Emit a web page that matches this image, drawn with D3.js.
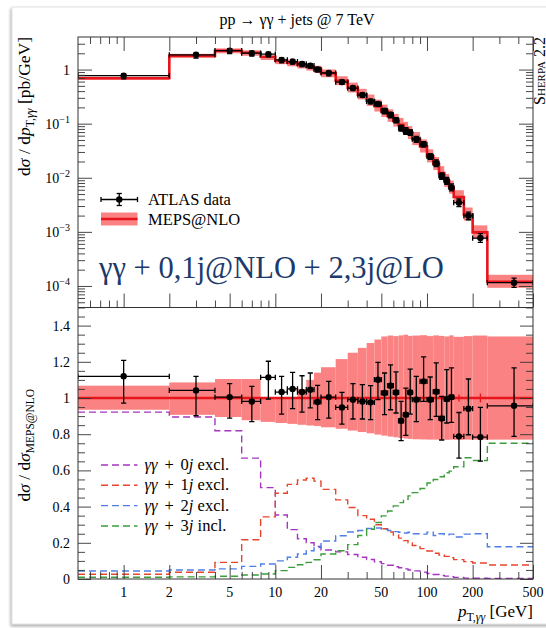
<!DOCTYPE html>
<html>
<head>
<meta charset="utf-8">
<script src="https://cdn.jsdelivr.net/npm/d3@7"></script>
<style>
body { margin: 0; background: #fff; }
svg { display: block; }
</style>
</head>
<body>
<svg id="chart" width="546" height="628"></svg>
<script>

// pT bins (GeV)
const binEdges = [0,2,4,6,8,10,12,14,16,18,20,25,30,35,40,45,50,55,60,65,70,75,80,90,100,110,120,130,140,150,175,200,250,500];
const binCentres = [1,3,5,7,9,11,13,15,17,19,22.5,27.5,32.5,37.5,42.5,47.5,52.5,57.5,62.5,67.5,72.5,77.5,85,95,105,115,125,135,145,162.5,187.5,225,375];

// MEPS@NLO prediction, dsigma/dpT [pb/GeV]
const mepsXsec = [0.69,1.80,2.23,2.05,1.73,1.46,1.34,1.23,1.13,1.03,0.86,0.62,0.46,0.345,0.265,0.21,0.168,0.137,0.113,0.095,0.08,0.067,0.052,0.038,0.025,0.018,0.0122,0.0088,0.0066,0.0044,0.0021,0.00098,0.00012];
// scale band relative to central value
const mepsBandHi = [1.068,1.086,1.105,1.105,1.003,1.003,1.003,1.05,1.10,1.14,1.17,1.215,1.25,1.277,1.304,1.323,1.34,1.345,1.342,1.346,1.35,1.343,1.345,1.347,1.342,1.346,1.343,1.34,1.346,1.338,1.342,1.345,1.34];
const mepsBandLo = [0.935,0.907,0.895,0.877,0.868,0.862,0.857,0.852,0.848,0.845,0.838,0.83,0.82,0.812,0.805,0.798,0.792,0.787,0.783,0.779,0.776,0.774,0.772,0.771,0.77,0.77,0.769,0.769,0.77,0.769,0.77,0.77,0.77];
const mepsStatErr = [0.003,0.003,0.003,0.003,0.003,0.003,0.003,0.003,0.003,0.003,0.003,0.003,0.003,0.004,0.004,0.004,0.005,0.005,0.006,0.006,0.007,0.007,0.007,0.008,0.009,0.01,0.011,0.012,0.013,0.02,0.02,0.025,0.02];

// ATLAS data / MEPS@NLO
const dataRatio   = [1.120,1.042,1.005,0.981,1.114,1.033,1.050,1.033,1.046,0.978,1.005,0.948,0.991,0.981,0.976,1.101,1.028,1.068,1.031,0.874,0.908,1.031,0.991,1.092,0.991,1.035,0.887,0.994,1.005,0.788,0.941,0.784,0.957];
const dataRatioHi = [1.208,1.120,1.079,1.064,1.203,1.120,1.142,1.123,1.138,1.070,1.092,1.031,1.079,1.074,1.068,1.197,1.138,1.183,1.144,0.981,1.055,1.160,1.120,1.227,1.116,1.194,1.009,1.157,1.166,0.920,1.105,0.948,1.166];
const dataRatioLo = [0.972,0.902,0.889,0.870,0.994,0.911,0.941,0.922,0.945,0.880,0.889,0.856,0.884,0.884,0.880,0.991,0.908,0.935,0.917,0.765,0.793,0.911,0.870,0.981,0.880,0.898,0.768,0.862,0.865,0.668,0.797,0.651,0.788];

// jet multiplicity fractions
const frac0j = [0.922,0.895,0.819,0.668,0.505,0.354,0.273,0.222,0.2,0.18,0.16,0.15,0.135,0.12,0.108,0.095,0.085,0.076,0.068,0.062,0.056,0.05,0.045,0.038,0.03,0.025,0.02,0.016,0.013,0.009,0.005,0.004,0.003];
const frac1j = [0.026,0.037,0.092,0.217,0.343,0.474,0.523,0.547,0.557,0.541,0.495,0.437,0.395,0.35,0.33,0.3,0.278,0.26,0.243,0.226,0.212,0.2,0.185,0.168,0.155,0.142,0.133,0.125,0.117,0.107,0.096,0.088,0.077];
const frac2j = [0.044,0.05,0.056,0.07,0.083,0.1,0.12,0.138,0.156,0.174,0.21,0.239,0.26,0.268,0.279,0.282,0.274,0.268,0.262,0.258,0.254,0.258,0.25,0.248,0.258,0.24,0.25,0.244,0.248,0.232,0.248,0.25,0.178];
const frac3j = [0.01,0.012,0.015,0.022,0.028,0.046,0.064,0.079,0.092,0.106,0.138,0.156,0.19,0.24,0.275,0.312,0.349,0.376,0.404,0.422,0.44,0.459,0.477,0.5,0.53,0.55,0.565,0.587,0.596,0.62,0.67,0.655,0.75];

const fracNames = ["0", "1", "2", "3"];
const fracSuffix = ["excl.", "excl.", "excl.", "incl."];
const fracColors = ["#a535c0", "#e8452c", "#4f7fe6", "#3a9d3a"];

// ticks
const xMajorTicks = [1,2,5,10,20,50,100,200,500];
const xMinorTicks = [0.6,0.7,0.8,0.9,3,4,6,7,8,9,30,40,60,70,80,90,300,400];
const yTopMajor = [1e-4,1e-3,1e-2,1e-1,1];
const yTopLabels = ["−4","−3","−2","−1",""];
const yRatLabels = [0,0.2,0.4,0.6,0.8,1,1.2,1.4];

const FONT = "'Liberation Serif', 'DejaVu Serif', 'Times New Roman', serif";
const X0 = 78, X1 = 533, TOP0 = 37, MID = 307.5, BOT = 579;
const bandFill = "#fa8282", mcRed = "#e8141b";

const svg = d3.select("#chart").attr("font-family", FONT);
const defs = svg.append("defs");
const shadow = defs.append("filter").attr("id", "shadow")
    .attr("x", "-5%").attr("y", "-5%").attr("width", "110%").attr("height", "110%");
shadow.append("feDropShadow").attr("dx", -1).attr("dy", 2).attr("stdDeviation", 1.6)
    .attr("flood-color", "#777").attr("flood-opacity", 0.6);

// card background like the screenshot
svg.append("rect").attr("x", 12).attr("y", 7).attr("width", 560).attr("height", 617)
    .attr("fill", "#fff").attr("stroke", "#e2e2e2").attr("filter", "url(#shadow)");

const x = d3.scaleLog().domain([0.5, 500]).range([X0, X1]);
const yTop = d3.scaleLog().domain([4e-5, 4]).range([MID, TOP0]);
const yRat = d3.scaleLinear().domain([0, 1.5]).range([BOT, MID]);
const xe = e => x(Math.max(e, 0.5));

const bins = binCentres.map((c, i) => ({
    lo: binEdges[i], hi: binEdges[i + 1], c: c,
    mc: mepsXsec[i], bHi: mepsBandHi[i], bLo: mepsBandLo[i], stat: mepsStatErr[i],
    r: dataRatio[i], rHi: dataRatioHi[i], rLo: dataRatioLo[i],
    fr: [frac0j[i], frac1j[i], frac2j[i], frac3j[i]]
}));

defs.append("clipPath").attr("id", "clipTop").append("rect")
    .attr("x", X0).attr("y", TOP0).attr("width", X1 - X0).attr("height", MID - TOP0);
defs.append("clipPath").attr("id", "clipRat").append("rect")
    .attr("x", X0).attr("y", MID).attr("width", X1 - X0).attr("height", BOT - MID);

function stepPoints(valueFn) {
    const pts = bins.map(b => [b.lo, valueFn(b)]);
    const last = bins[bins.length - 1];
    pts.push([last.hi, valueFn(last)]);
    return pts;
}

function drawData(g, yFn, cap) {
    const pts = g.selectAll("g.pt").data(bins).join("g").attr("class", "pt")
        .attr("stroke", "#000").attr("stroke-width", 1.3);
    pts.append("line")
        .attr("x1", d => xe(d.lo)).attr("x2", d => x(d.hi))
        .attr("y1", d => yFn(d, "r")).attr("y2", d => yFn(d, "r"));
    pts.append("line")
        .attr("x1", d => xe(d.lo)).attr("x2", d => xe(d.lo))
        .attr("y1", d => yFn(d, "r") - cap).attr("y2", d => yFn(d, "r") + cap);
    pts.append("line")
        .attr("x1", d => x(d.hi)).attr("x2", d => x(d.hi))
        .attr("y1", d => yFn(d, "r") - cap).attr("y2", d => yFn(d, "r") + cap);
    pts.append("line")
        .attr("x1", d => x(d.c)).attr("x2", d => x(d.c))
        .attr("y1", d => yFn(d, "rHi")).attr("y2", d => yFn(d, "rLo"));
    ["rHi", "rLo"].forEach(k => {
        pts.append("line")
            .attr("x1", d => x(d.c) - cap).attr("x2", d => x(d.c) + cap)
            .attr("y1", d => yFn(d, k)).attr("y2", d => yFn(d, k));
    });
    pts.append("circle").attr("cx", d => x(d.c)).attr("cy", d => yFn(d, "r"))
        .attr("r", 3.2).attr("fill", "#000").attr("stroke", "none");
}

// ---------- top panel ----------
const gTop = svg.append("g").attr("clip-path", "url(#clipTop)");
gTop.selectAll("rect.band").data(bins).join("rect").attr("class", "band")
    .attr("x", d => xe(d.lo)).attr("width", d => x(d.hi) - xe(d.lo))
    .attr("y", d => yTop(d.mc * d.bHi))
    .attr("height", d => yTop(d.mc * d.bLo) - yTop(d.mc * d.bHi))
    .attr("fill", bandFill);
gTop.append("path")
    .attr("d", d3.line().x(p => xe(p[0])).y(p => yTop(p[1])).curve(d3.curveStepAfter)(stepPoints(b => b.mc)))
    .attr("fill", "none").attr("stroke", mcRed).attr("stroke-width", 2.6);
drawData(gTop.append("g"), (d, k) => yTop(d.mc * d[k]), 2.6);

// ---------- ratio panel ----------
const gRat = svg.append("g").attr("clip-path", "url(#clipRat)");
gRat.selectAll("rect.band").data(bins).join("rect").attr("class", "band")
    .attr("x", d => xe(d.lo)).attr("width", d => x(d.hi) - xe(d.lo))
    .attr("y", d => yRat(d.bHi))
    .attr("height", d => yRat(d.bLo) - yRat(d.bHi))
    .attr("fill", bandFill);
gRat.append("path")
    .attr("d", d3.line().x(p => xe(p[0])).y(p => yRat(p[1])).curve(d3.curveStepAfter)(stepPoints(b => 1)))
    .attr("fill", "none").attr("stroke", mcRed).attr("stroke-width", 2.6);
gRat.selectAll("line.stat").data(bins).join("line").attr("class", "stat")
    .attr("x1", d => x(d.c)).attr("x2", d => x(d.c))
    .attr("y1", d => yRat(1 + d.stat)).attr("y2", d => yRat(1 - d.stat))
    .attr("stroke", mcRed).attr("stroke-width", 1.3);
fracNames.forEach((n, j) => {
    gRat.append("path")
        .attr("d", d3.line().x(p => xe(p[0])).y(p => yRat(p[1])).curve(d3.curveStepAfter)(stepPoints(b => b.fr[j])))
        .attr("fill", "none").attr("stroke", fracColors[j]).attr("stroke-width", 1.4)
        .attr("stroke-dasharray", "7,4");
});
drawData(gRat.append("g"), (d, k) => yRat(d[k]), 2.6);

// ---------- frames and ticks ----------
function tickGroup(axis, vals, size, tx, ty) {
    const g = svg.append("g").attr("transform", `translate(${tx},${ty})`)
        .call(axis.tickValues(vals).tickSize(size).tickSizeOuter(0).tickFormat(""));
    g.select(".domain").remove();
    g.selectAll("line").attr("stroke", "#333").attr("stroke-width", 0.9);
    return g;
}
const yTopMinor = [];
yTopMajor.concat([10]).forEach(m => d3.range(2, 10).forEach(k => {
    const v = k * m / 10;
    if (v > 4e-5 && v < 4) yTopMinor.push(v);
}));
const yRatMinor = d3.range(0, 1.5001, 0.05).filter(v => yRatLabels.every(l => Math.abs(l - v) > 1e-6));

[[TOP0, d3.axisTop], [MID, d3.axisBottom], [BOT, d3.axisBottom]].forEach(([yy, ax]) => {
    tickGroup(ax(x), xMajorTicks, -14, 0, yy);
    tickGroup(ax(x), xMinorTicks, -7, 0, yy);
});
tickGroup(d3.axisLeft(yTop), yTopMajor, -14, X0, 0);
tickGroup(d3.axisLeft(yTop), yTopMinor, -7, X0, 0);
tickGroup(d3.axisRight(yTop), yTopMajor, -14, X1, 0);
tickGroup(d3.axisRight(yTop), yTopMinor, -7, X1, 0);
tickGroup(d3.axisLeft(yRat), yRatLabels, -13, X0, 0);
tickGroup(d3.axisLeft(yRat), yRatMinor, -7, X0, 0);
tickGroup(d3.axisRight(yRat), yRatLabels, -13, X1, 0);
tickGroup(d3.axisRight(yRat), yRatMinor, -7, X1, 0);

svg.append("rect").attr("x", X0).attr("y", TOP0).attr("width", X1 - X0).attr("height", BOT - TOP0)
    .attr("fill", "none").attr("stroke", "#333").attr("stroke-width", 1);
svg.append("line").attr("x1", X0).attr("x2", X1).attr("y1", MID).attr("y2", MID)
    .attr("stroke", "#333").attr("stroke-width", 1);

// tick labels
yTopMajor.forEach((v, i) => {
    const t = svg.append("text").attr("x", 70).attr("y", yTop(v) + 5)
        .attr("text-anchor", "end").style("font-size", "14px");
    if (v === 1) { t.text("1"); return; }
    t.append("tspan").text("10");
    t.append("tspan").attr("dy", -6).style("font-size", "10px").text(yTopLabels[i]);
});
yRatLabels.forEach(v => {
    svg.append("text").attr("x", 70).attr("y", yRat(v) + 5).attr("text-anchor", "end")
        .style("font-size", "14px").text(String(v));
});
xMajorTicks.forEach(v => {
    svg.append("text").attr("x", x(v)).attr("y", 597).attr("text-anchor", "middle")
        .style("font-size", "14px").text(String(v));
});

// axis titles
const yl = svg.append("text").attr("transform", `translate(30,${TOP0}) rotate(-90)`)
    .attr("text-anchor", "end").style("font-size", "17.5px");
yl.append("tspan").text("d");
yl.append("tspan").style("font-style", "italic").text("σ");
yl.append("tspan").text(" / d");
yl.append("tspan").style("font-style", "italic").text("p");
yl.append("tspan").attr("dy", 4).style("font-size", "12px").text("T,");
yl.append("tspan").style("font-size", "12px").style("font-style", "italic").text("γγ");
yl.append("tspan").attr("dy", -4).text(" [pb/GeV]");

const rl = svg.append("text").attr("transform", `translate(30,${(MID + BOT) / 2 + 2}) rotate(-90)`)
    .attr("text-anchor", "middle").style("font-size", "17.5px");
rl.append("tspan").text("d");
rl.append("tspan").style("font-style", "italic").text("σ");
rl.append("tspan").text(" / d");
rl.append("tspan").style("font-style", "italic").text("σ");
rl.append("tspan").attr("dy", 4).style("font-size", "11.5px").text("MEPS@NLO");

const xl = svg.append("text").attr("x", X1).attr("y", 617).attr("text-anchor", "end")
    .style("font-size", "17px");
xl.append("tspan").style("font-style", "italic").text("p");
xl.append("tspan").attr("dy", 4).style("font-size", "12px").text("T,");
xl.append("tspan").style("font-size", "12px").style("font-style", "italic").text("γγ");
xl.append("tspan").attr("dy", -4).text(" [GeV]");

svg.append("text").attr("x", 297).attr("y", 25).attr("text-anchor", "middle")
    .style("font-size", "16px").text("pp → γγ + jets @ 7 TeV");

svg.append("text").attr("transform", `translate(545,${TOP0}) rotate(-90)`)
    .attr("text-anchor", "end").style("font-size", "16px").style("font-variant", "small-caps")
    .text("Sherpa 2.2");

// ---------- legends ----------
const lx0 = 101, lx1 = 137.5;
const leg = svg.append("g");
const ly1 = 199.5;
leg.append("line").attr("x1", lx0).attr("x2", lx1).attr("y1", ly1).attr("y2", ly1)
    .attr("stroke", "#000").attr("stroke-width", 1.3);
[lx0, lx1].forEach(px => leg.append("line").attr("x1", px).attr("x2", px)
    .attr("y1", ly1 - 2.6).attr("y2", ly1 + 2.6).attr("stroke", "#000").attr("stroke-width", 1.3));
const lxc = (lx0 + lx1) / 2;
leg.append("line").attr("x1", lxc).attr("x2", lxc).attr("y1", ly1 - 6).attr("y2", ly1 + 6)
    .attr("stroke", "#000").attr("stroke-width", 1.3);
[ly1 - 6, ly1 + 6].forEach(py => leg.append("line").attr("x1", lxc - 2.6).attr("x2", lxc + 2.6)
    .attr("y1", py).attr("y2", py).attr("stroke", "#000").attr("stroke-width", 1.3));
leg.append("circle").attr("cx", lxc).attr("cy", ly1).attr("r", 3.2).attr("fill", "#000");
leg.append("text").attr("x", 148).attr("y", ly1 + 5.5).style("font-size", "16.5px").text("ATLAS data");

const ly2 = 219;
leg.append("rect").attr("x", lx0).attr("y", ly2 - 6.5).attr("width", lx1 - lx0).attr("height", 13)
    .attr("fill", bandFill);
leg.append("line").attr("x1", lx0).attr("x2", lx1).attr("y1", ly2).attr("y2", ly2)
    .attr("stroke", mcRed).attr("stroke-width", 2.6);
leg.append("text").attr("x", 148).attr("y", ly2 + 5.5).style("font-size", "16.5px").text("MEPS@NLO");

const legY = [465, 485.3, 505.6, 526];
fracNames.forEach((n, j) => {
    leg.append("line").attr("x1", lx0).attr("x2", lx1).attr("y1", legY[j]).attr("y2", legY[j])
        .attr("stroke", fracColors[j]).attr("stroke-width", 1.4).attr("stroke-dasharray", "7,4");
    const t = leg.append("text").attr("x", 144.5).attr("y", legY[j] + 5).style("font-size", "16.5px");
    t.append("tspan").style("font-style", "italic").text("γγ");
    t.append("tspan").text("\u2004\u200a+\u2004\u200a" + n);
    t.append("tspan").style("font-style", "italic").text("j");
    t.append("tspan").text(" " + fracSuffix[j]);
});

// force the serif family on every label
svg.selectAll("text").style("font-family", FONT).style("fill", "#000");

const big = svg.append("text").attr("x", 99).attr("y", 278)
    .style("font-family", FONT).style("font-size", "32px").style("fill", "#1c3a6b")
    .text("γγ + 0,1j@NLO + 2,3j@LO");
const bigW = big.node().getComputedTextLength();
big.style("font-size", (32 * 345 / bigW).toFixed(2) + "px");
</script>
</body>
</html>
